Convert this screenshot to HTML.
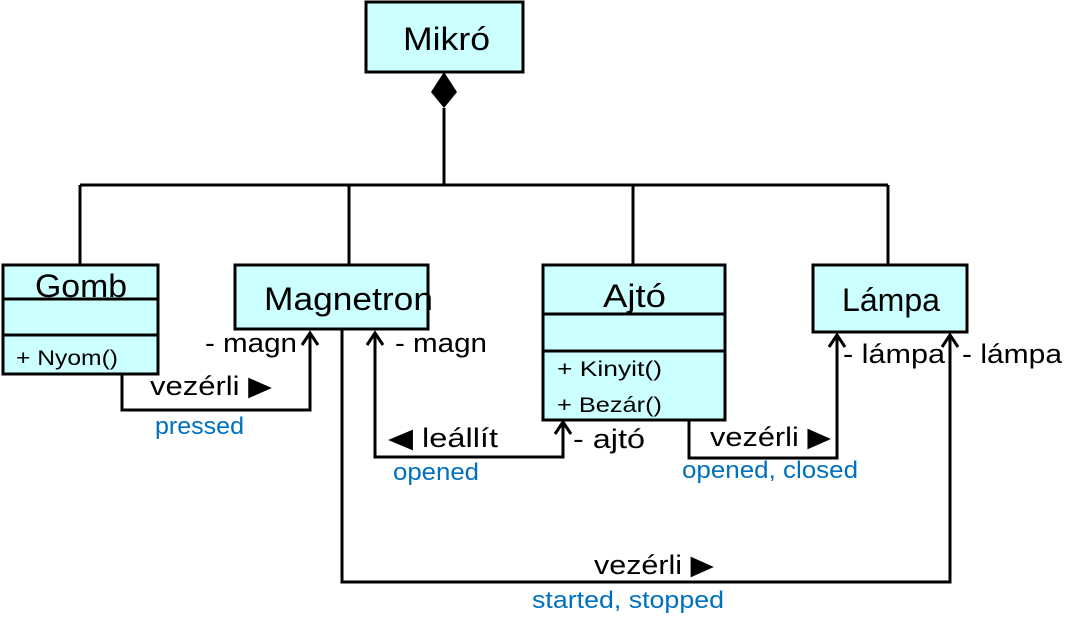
<!DOCTYPE html>
<html><head><meta charset="utf-8"><style>
body{margin:0;background:#fff}
svg text{font-family:"Liberation Sans",sans-serif}
</style></head><body>
<svg width="1085" height="635" viewBox="0 0 1085 635" xmlns="http://www.w3.org/2000/svg">
<g fill="none" stroke="#000" stroke-width="3">
<path d="M444 108V185M80 185H888M80 185V265M349 185V265M633 185V265M888 185V265"/>
<path d="M122 374V410H310V333"/>
<path d="M375 333V457H563V422"/>
<path d="M689 420V458H837V335"/>
<path d="M342 329V582H950V335"/>
<path d="M302 345L310 333L318 345M367 345L375 333L383 345M555 434L563 422L571 434M829 347L837 335L845 347M942 347L950 335L958 347"/>
</g>
<polygon points="444,72 457,92 444,108 431,92" fill="#000"/>
<g fill="#ccffff" stroke="#000" stroke-width="3">
<rect x="366" y="2" width="157" height="70"/>
<rect x="3" y="265" width="155" height="109"/>
<rect x="235" y="265" width="193" height="64"/>
<rect x="543" y="265" width="182" height="155"/>
<rect x="813" y="265" width="154" height="67"/>
</g>
<g stroke="#000" stroke-width="3">
<path d="M3 299H158M3 335H158M543 314H725M543 351H725"/>
</g>
<g font-size="32" fill="#000" lengthAdjust="spacingAndGlyphs">
<text x="403" y="50" textLength="87" lengthAdjust="spacingAndGlyphs">Mikró</text>
<text x="35" y="297" textLength="92" lengthAdjust="spacingAndGlyphs">Gomb</text>
<text x="264" y="310" textLength="169" lengthAdjust="spacingAndGlyphs">Magnetron</text>
<text x="603" y="307" textLength="63" lengthAdjust="spacingAndGlyphs">Ajtó</text>
<text x="842" y="311" textLength="98" lengthAdjust="spacingAndGlyphs">Lámpa</text>
</g>
<g font-size="21" fill="#000">
<text x="16" y="365" textLength="102" lengthAdjust="spacingAndGlyphs">+ Nyom()</text>
<text x="557" y="376" textLength="105" lengthAdjust="spacingAndGlyphs">+ Kinyit()</text>
<text x="557" y="412" textLength="105" lengthAdjust="spacingAndGlyphs">+ Bezár()</text>
</g>
<g font-size="27" fill="#000">
<text x="205" y="352" textLength="92" lengthAdjust="spacingAndGlyphs">- magn</text>
<text x="395" y="352" textLength="92" lengthAdjust="spacingAndGlyphs">- magn</text>
<text x="150" y="395" textLength="122" lengthAdjust="spacingAndGlyphs">vezérli ▶</text>
<text x="388" y="447" textLength="110" lengthAdjust="spacingAndGlyphs">◀ leállít</text>
<text x="573" y="448" textLength="72" lengthAdjust="spacingAndGlyphs">- ajtó</text>
<text x="710" y="446" textLength="121" lengthAdjust="spacingAndGlyphs">vezérli ▶</text>
<text x="843" y="363" textLength="102" lengthAdjust="spacingAndGlyphs">- lámpa</text>
<text x="962" y="363" textLength="100" lengthAdjust="spacingAndGlyphs">- lámpa</text>
<text x="594" y="574" textLength="120" lengthAdjust="spacingAndGlyphs">vezérli ▶</text>
</g>
<g font-size="24" fill="#0070c0">
<text x="155" y="434" textLength="89" lengthAdjust="spacingAndGlyphs">pressed</text>
<text x="393" y="480" textLength="86" lengthAdjust="spacingAndGlyphs">opened</text>
<text x="682" y="478" textLength="176" lengthAdjust="spacingAndGlyphs">opened, closed</text>
<text x="532" y="608" textLength="192" lengthAdjust="spacingAndGlyphs">started, stopped</text>
</g>
</svg>
</body></html>
